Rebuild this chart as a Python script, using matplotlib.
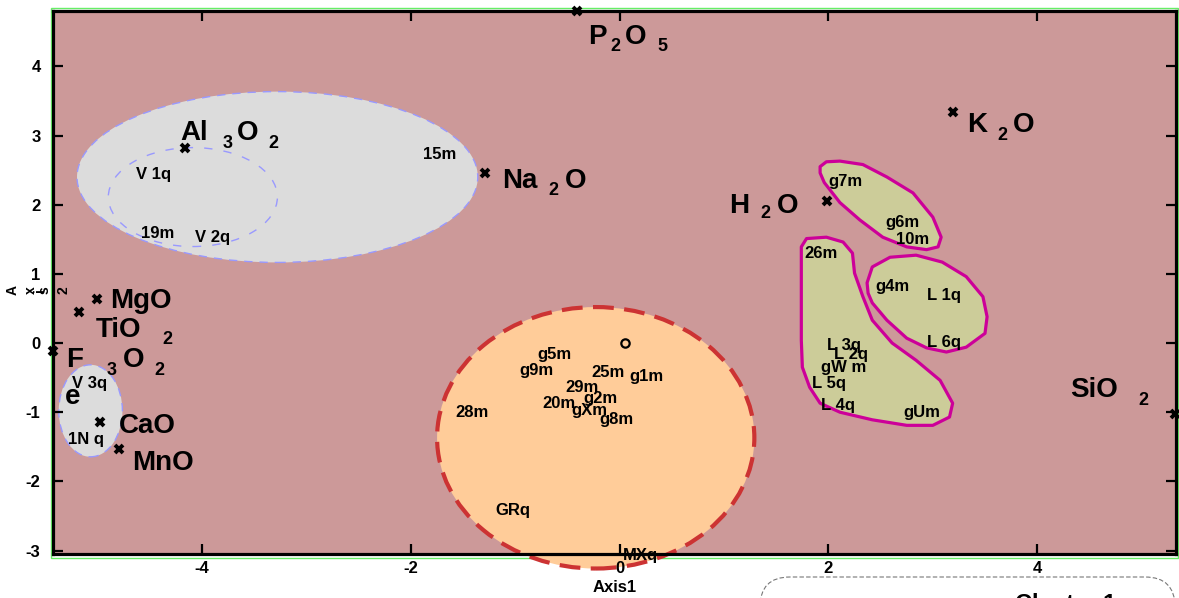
import numpy as np
import matplotlib
matplotlib.use('Agg')
import matplotlib.pyplot as plt
from matplotlib.patches import Ellipse, Polygon, Rectangle, FancyBboxPatch

plt.rcParams['font.family'] = ['Liberation Sans', 'DejaVu Sans']
plt.rcParams['font.weight'] = 'bold'
plt.rcParams['axes.unicode_minus'] = False

# oxide (variable) points
oxides = ['P2O5', 'K2O', 'Al3O2', 'Na2O', 'H2O', 'MgO', 'TiO2', 'Fe3O2', 'CaO', 'MnO', 'SiO2']
ox_x = [-0.41, 3.19, -4.17, -1.29, 1.99, -5.01, -5.18, -5.43, -4.98, -4.80, 5.32]
ox_y = [4.80, 3.34, 2.82, 2.46, 2.05, 0.64, 0.45, -0.12, -1.14, -1.53, -1.03]

# sample labels
samples = ['V 1q', '19m', 'V 2q', '15m', 'V 3q', '1N q',
           'g5m', 'g9m', '25m', 'g1m', '29m', 'g2m', '20m', 'gXm', 'g8m', '28m', 'GRq', 'MXq',
           'g7m', 'g6m', '10m', '26m', 'g4m', 'L 1q', 'L 6q', 'L 3q', 'L 2q', 'gW m', 'L 5q', 'L 4q', 'gUm']
smp_x = [-4.47, -4.43, -3.90, -1.73, -5.08, -5.11,
         -0.63, -0.80, -0.11, 0.26, -0.36, -0.18, -0.58, -0.29, -0.03, -1.42, -1.02, 0.20,
         2.16, 2.71, 2.81, 1.93, 2.61, 3.11, 3.11, 2.15, 2.22, 2.15, 2.01, 2.09, 2.89]
smp_y = [2.43, 1.59, 1.53, 2.72, -0.58, -1.40,
         -0.17, -0.39, -0.42, -0.49, -0.65, -0.80, -0.87, -0.97, -1.11, -1.01, -2.42, -3.07,
         2.34, 1.74, 1.49, 1.30, 0.81, 0.69, 0.01, -0.03, -0.16, -0.36, -0.58, -0.90, -1.01]

# ellipse clusters: centre x, centre y, width, height
ell_grey = [(-3.28, 2.40, 3.84, 2.47), (-5.07, -0.98, 0.61, 1.33)]
ell_grey_inner = (-4.09, 2.11, 1.62, 1.43)
ell_orange = (-0.23, -1.37, 3.04, 3.78)

# hull outlines of the olive clusters
blob_a_x = [1.92, 1.98, 2.11, 2.33, 2.56, 2.81, 3.00, 3.08, 3.05, 2.94, 2.75, 2.52, 2.30, 2.11, 1.96, 1.92]
blob_a_y = [2.55, 2.62, 2.63, 2.58, 2.40, 2.17, 1.82, 1.53, 1.39, 1.35, 1.39, 1.53, 1.78, 2.03, 2.32, 2.46]
blob_b_x = [2.37, 2.42, 2.59, 2.84, 3.09, 3.32, 3.48, 3.52, 3.50, 3.32, 3.13, 2.94, 2.75, 2.56, 2.42, 2.38]
blob_b_y = [0.87, 1.10, 1.24, 1.27, 1.17, 0.96, 0.67, 0.38, 0.14, -0.06, -0.13, -0.07, 0.07, 0.33, 0.58, 0.72]
blob_c_x = [1.74, 1.79, 1.98, 2.14, 2.23, 2.25, 2.33, 2.42, 2.61, 2.84, 3.07, 3.19, 3.16, 3.00, 2.75,
            2.42, 2.11, 1.92, 1.82, 1.75, 1.74, 1.74]
blob_c_y = [1.39, 1.51, 1.53, 1.46, 1.30, 1.01, 0.67, 0.33, 0.00, -0.25, -0.54, -0.87, -1.07, -1.19, -1.19,
            -1.11, -1.00, -0.87, -0.64, -0.35, 0.04, 0.77]

# label pieces for each oxide: (text, dx px, dy px, subscript?)
ox_pieces = {
    'P2O5': [('P', 11, 33, 0), ('2', 33, 40, 1), ('O', 48, 33, 0), ('5', 81, 40, 1)],
    'K2O': [('K', 14, 20, 0), ('2', 45, 28, 1), ('O', 60, 20, 0)],
    'Al3O2': [('Al', -4, -8, 0), ('3', 38, 0, 1), ('O', 52, -8, 0), ('2', 84, 0, 1)],
    'Na2O': [('Na', 17, 15, 0), ('2', 63, 22, 1), ('O', 80, 15, 0)],
    'H2O': [('H', -98, 12, 0), ('2', -67, 17, 1), ('O', -51, 12, 0)],
    'MgO': [('MgO', 13, 9, 0)],
    'TiO2': [('TiO', 17, 25, 0), ('2', 83, 32, 1)],
    'Fe3O2': [('F', 13, 16, 0), ('3', 54, 24, 1), ('O', 70, 16, 0), ('2', 101, 24, 1), ('e', 12, 53, 0)],
    'CaO': [('CaO', 19, 11, 0)],
    'MnO': [('MnO', 13, 21, 0)],
    'SiO2': [('SiO', -105, -17, 0), ('2', -37, -9, 1)],
}

fig = plt.figure(figsize=(11.79, 5.98), dpi=100)
ax = fig.add_axes([53/1179, 1-554/598, (1176-53)/1179, (554-11)/598])
ax.set_facecolor('#CC9999')
ax.set_xlim(-5.43, 5.33)
ax.set_ylim(-3.05, 4.80)

# light green frame around the plot
fig.add_artist(Rectangle((50.7/1179, 1-558/598), (1178-50.7)/1179, (558-8)/598,
                         transform=fig.transFigure, fill=False, edgecolor='#66EE66',
                         lw=1, zorder=-1))

for cx, cy, w, h in ell_grey:
    ax.add_patch(Ellipse((cx, cy), w, h, facecolor='#DCDCDC', edgecolor='#9999FF',
                         lw=1, linestyle=(0, (6, 5)), zorder=1))
cx, cy, w, h = ell_grey_inner
ax.add_patch(Ellipse((cx, cy), w, h, facecolor='none', edgecolor='#9999FF',
                     lw=1, linestyle=(0, (6, 8)), zorder=1.1))
cx, cy, w, h = ell_orange
ax.add_patch(Ellipse((cx, cy), w, h, facecolor='#FFCC99', edgecolor='#CC3333',
                     lw=3, linestyle=(0, (5, 2.5)), zorder=1, clip_on=False))

for bx, by in [(blob_a_x, blob_a_y), (blob_b_x, blob_b_y), (blob_c_x, blob_c_y)]:
    ax.add_patch(Polygon(np.column_stack([bx, by]), closed=True, facecolor='#CCCC99',
                         edgecolor='#CC0099', lw=2.3, joinstyle='round', zorder=1))

ax.plot(ox_x, ox_y, 'x', color='k', ms=6, mew=2.8, clip_on=False, zorder=4)
ax.plot([0.05], [0.0], 'o', mfc='none', mec='k', ms=6, mew=1.6, zorder=4)

for name, x, y in zip(oxides, ox_x, ox_y):
    for txt, dx, dy, sub in ox_pieces[name]:
        ax.annotate(txt, xy=(x, y), xytext=(dx*0.72, -dy*0.72), textcoords='offset points',
                    ha='left', va='baseline', fontsize=13 if sub else 20,
                    fontweight='bold', color='k', zorder=5, annotation_clip=False)

for s, x, y in zip(samples, smp_x, smp_y):
    ax.text(x, y, s, ha='center', va='center', fontsize=12, fontweight='bold',
            color='k', zorder=5)

ax.set_xticks([-4, -2, 0, 2, 4])
ax.set_yticks([-3, -2, -1, 0, 1, 2, 3, 4])
ax.tick_params(direction='in', length=7, width=1.6, top=True, right=True,
               labelsize=12, pad=5)
ax.tick_params(axis='y', pad=9)
for lab in ax.get_xticklabels() + ax.get_yticklabels():
    lab.set_fontweight('bold')
for sp in ax.spines.values():
    sp.set_linewidth(2.3)
    sp.set_zorder(3)

ax.set_xlabel('Axis1', fontsize=12, fontweight='bold', labelpad=3)

# y label as it renders in the original: rotated glyphs laid out side by side
for ch, px in zip('Axis2', [13, 31, 40, 45, 63]):
    fig.text(px/1179, 1-290/598, ch, rotation=90, ha='center', va='center',
             fontsize=10, fontweight='bold')

# legend box, cut off by the figure edge
fig.add_artist(FancyBboxPatch((7.60, -0.79), 4.15, 1.0,
                              boxstyle='round,pad=0,rounding_size=0.3',
                              transform=fig.dpi_scale_trans, facecolor='white',
                              edgecolor='#777777', lw=0.8, linestyle=(0, (4, 2))))
fig.text(1015/1179, 1-593/598, 'Cluster 1', ha='left', va='top', fontsize=17,
         fontweight='bold')

fig.savefig('out.png', dpi=100)
